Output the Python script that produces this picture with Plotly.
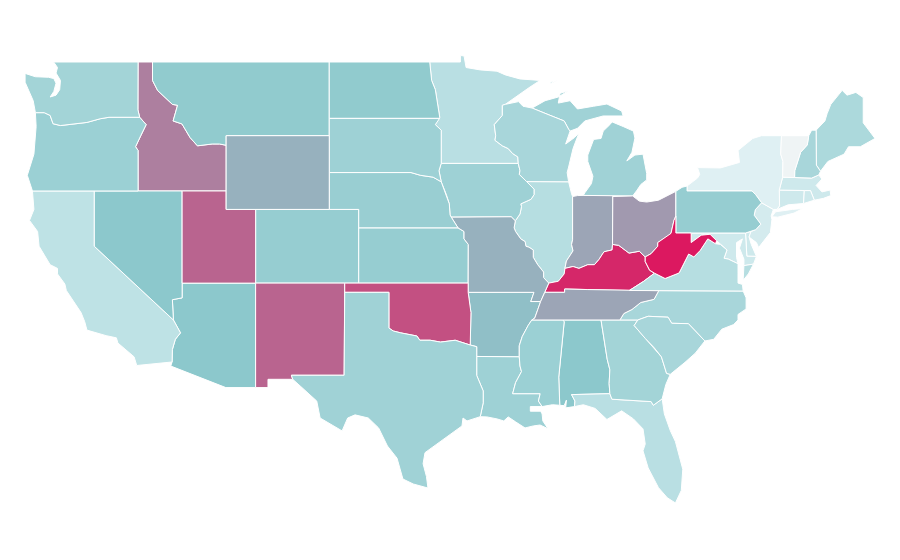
import plotly.graph_objects as go
from plotly.colors import sample_colorscale

# no topojson without the cdn, so the state outlines are drawn by hand here (approximate lon/lat)
states = ['AL', 'AZ', 'AR', 'CA', 'CO', 'CT', 'DE', 'DC', 'FL', 'GA', 'ID', 'IL', 'IN', 'IA', 'KS', 'KY', 'LA',
          'ME', 'MD', 'MA', 'MI', 'MN', 'MS', 'MO', 'MT', 'NE', 'NV', 'NH', 'NJ', 'NM', 'NY', 'NC', 'ND', 'OH',
          'OK', 'OR', 'PA', 'RI', 'SC', 'SD', 'TN', 'TX', 'UT', 'VT', 'VA', 'WA', 'WV', 'WI', 'WY']
values = [40, 40, 43, 20, 36, 14, 14, 14, 22, 31, 65, 23, 52, 33, 36, 95, 33,
          27, 14, 14, 32, 22, 34, 48, 38, 35, 40, 29, 12, 74, 8, 29, 38, 56,
          81, 34, 36, 14, 29, 33, 52, 32, 74, 2, 23, 31, 100, 29, 48]

colors = [[0, '#f4f5f6'], [0.08, '#dff0f3'], [0.2, '#bee2e5'], [0.4, '#8cc8cc'], [1, '#dc1860']]

# rivers shared by two states
miss_mn_wi = [(-92.8, 44.75), (-92.3, 44.45), (-91.9, 44.3), (-91.6, 44.03), (-91.25, 43.85), (-91.22, 43.5)]
miss_ia_wi = [(-91.22, 43.5), (-91.1, 43.1), (-91.15, 42.9), (-90.65, 42.51)]
miss_ia_il = [(-90.65, 42.51), (-90.4, 42.3), (-90.15, 42.1), (-90.15, 41.8), (-90.35, 41.55), (-91.05, 41.3),
              (-91.0, 41.15), (-91.1, 40.75), (-91.42, 40.38)]
miss_mo_il = [(-91.42, 40.38), (-91.5, 40.0), (-91.4, 39.8), (-91.05, 39.4), (-90.75, 39.25), (-90.7, 39.0),
              (-90.5, 38.95), (-90.2, 38.8), (-90.2, 38.4), (-89.9, 38.0), (-89.5, 37.6), (-89.5, 37.3),
              (-89.15, 37.0)]
miss_mo_ky = [(-89.15, 37.0), (-89.42, 36.5)]
miss_mo_tn = [(-89.42, 36.5), (-89.55, 36.3), (-89.7, 36.0)]
miss_ar_tn = [(-89.7, 36.0), (-89.9, 35.55), (-90.1, 35.1), (-90.3, 35.0)]
miss_ar_ms = [(-90.3, 35.0), (-90.55, 34.7), (-90.95, 34.1), (-91.15, 33.6), (-91.15, 33.0)]
miss_la_ms = [(-91.15, 33.0), (-91.1, 32.5), (-91.0, 32.2), (-91.4, 31.6), (-91.6, 31.0)]
ohio_il = [(-89.15, 37.0), (-88.5, 37.1), (-88.1, 37.5), (-88.05, 37.8)]
ohio_in = [(-88.05, 37.8), (-87.5, 37.9), (-87.1, 37.8), (-86.5, 38.0), (-86.05, 38.0), (-85.75, 38.27),
           (-85.4, 38.7), (-84.85, 38.8), (-84.82, 39.1)]
ohio_oh = [(-84.82, 39.1), (-84.4, 39.05), (-83.7, 38.63), (-83.0, 38.73), (-82.6, 38.42)]
ohio_wv = [(-82.6, 38.42), (-82.2, 38.6), (-81.75, 39.0), (-81.75, 39.2), (-81.0, 39.6), (-80.85, 39.7),
           (-80.65, 40.4), (-80.52, 40.64)]
id_mt = [(-116.05, 49), (-116.05, 48), (-115.7, 47.45), (-114.7, 46.7), (-114.35, 46.65), (-114.65, 45.8),
         (-114.05, 45.64), (-113.5, 44.9), (-113.0, 44.45), (-112.0, 44.55), (-111.5, 44.55), (-111.05, 44.48)]
columbia = [(-124.0, 46.25), (-123.4, 46.25), (-123.0, 46.1), (-122.8, 45.65), (-122.3, 45.55), (-121.2, 45.65),
            (-120.5, 45.72), (-119.6, 45.92), (-119.0, 46.0), (-116.92, 46.0)]
snake = [(-116.92, 46.0), (-116.48, 45.6), (-116.85, 45.0), (-117.2, 44.4), (-117.03, 44.2), (-117.03, 42.0)]
colorado = [(-114.63, 35.0), (-114.15, 34.3), (-114.5, 33.95), (-114.7, 33.4), (-114.72, 32.72)]
red = [(-94.48, 33.64), (-95.5, 33.9), (-96.5, 33.8), (-97.2, 33.9), (-97.9, 33.9), (-98.1, 34.13), (-99.2, 34.3),
       (-99.7, 34.4), (-100, 34.56)]
potomac = [(-76.3, 38.05), (-76.95, 38.3), (-77.25, 38.35), (-77.05, 38.8), (-77.5, 39.1)]
va_wv = [(-77.83, 39.14), (-78.35, 39.4), (-78.87, 38.77), (-79.3, 38.42), (-79.65, 38.58), (-80.3, 37.55),
         (-81.25, 37.25), (-81.97, 37.54)]
tug = [(-81.97, 37.54), (-82.3, 37.7), (-82.6, 38.17), (-82.6, 38.42)]
tn_nc = [(-84.32, 35.0), (-84.05, 35.35), (-83.5, 35.57), (-82.9, 35.95), (-82.4, 36.05), (-82.0, 36.12),
         (-81.68, 36.59)]
ga_sc = [(-83.1, 35.0), (-83.35, 34.7), (-82.6, 34.0), (-82.0, 33.5), (-81.5, 33.0), (-81.15, 32.1), (-80.9, 32.05)]
nc_sc = [(-83.1, 35.0), (-82.4, 35.2), (-81.05, 35.15), (-80.8, 34.82), (-79.67, 34.8), (-78.55, 33.86)]
ky_tn = [(-81.68, 36.59), (-83.68, 36.6), (-86.5, 36.65), (-88.07, 36.68), (-88.07, 36.5), (-89.42, 36.5)]
wi_mi = [(-90.28, 46.5), (-89.2, 46.15), (-88.1, 45.8), (-87.8, 45.35), (-87.7, 45.25)]
vt_nh = [(-71.5, 45.0), (-71.6, 44.5), (-72.05, 44.1), (-72.45, 43.1), (-72.46, 42.73)]
de_river = [(-75.42, 39.8), (-75.1, 39.9), (-74.75, 40.2), (-75.2, 40.68), (-75.13, 40.98), (-74.7, 41.36),
            (-75.1, 41.8), (-75.35, 42.0)]


def rev(seg):
    return seg[::-1]


outlines = {
    'WA': [[(-117.03, 49), (-122.76, 49), (-122.5, 48.7), (-122.6, 48.4), (-122.3, 48.0), (-122.35, 47.5),
            (-122.6, 47.2), (-123.0, 47.1), (-122.75, 47.4), (-122.6, 47.85), (-122.75, 48.1), (-123.1, 48.17),
            (-124.0, 48.2), (-124.7, 48.38), (-124.7, 47.9), (-124.15, 46.9)]
           + columbia + [(-117.04, 46.4)]],
    'OR': [columbia + snake + [(-124.2, 42.0), (-124.55, 42.85), (-124.1, 44.0), (-123.95, 45.5)]],
    'CA': [[(-124.2, 42), (-120, 42), (-120, 39)] + colorado
           + [(-117.12, 32.53), (-117.3, 33.0), (-118.4, 33.75), (-118.5, 34.03), (-119.2, 34.15), (-120.5, 34.45),
              (-120.65, 34.9), (-120.9, 35.4), (-121.9, 36.6), (-122.0, 36.95), (-122.5, 37.5), (-122.5, 37.8),
              (-123.0, 38.0), (-123.75, 39.0), (-123.85, 39.8), (-124.4, 40.4), (-124.1, 41.0)]],
    'NV': [[(-120, 42), (-114.04, 42), (-114.04, 36.2), (-114.7, 36.1), (-114.63, 35.0), (-120, 39)]],
    'AZ': [[(-114.04, 37), (-109.05, 37), (-109.05, 31.33), (-111.07, 31.33), (-114.81, 32.5)] + rev(colorado)
           + [(-114.7, 36.1), (-114.04, 36.2)]],
    'UT': [[(-114.04, 42), (-111.05, 42), (-111.05, 41), (-109.05, 41), (-109.05, 37), (-114.04, 37)]],
    'ID': [[(-117.03, 49)] + id_mt + [(-111.05, 42)] + rev(snake) + [(-117.04, 46.4)]],
    'MT': [id_mt + [(-111.05, 45), (-104.05, 45), (-104.05, 49)]],
    'WY': [[(-111.05, 45), (-104.05, 45), (-104.05, 41), (-111.05, 41)]],
    'CO': [[(-109.05, 41), (-102.05, 41), (-102.05, 37), (-109.05, 37)]],
    'NM': [[(-109.05, 37), (-103, 37), (-103.04, 32), (-106.62, 32), (-106.53, 31.78), (-108.21, 31.78),
            (-108.21, 31.33), (-109.05, 31.33)]],
    'ND': [[(-104.05, 49), (-97.23, 49), (-97.1, 48), (-96.85, 47.5), (-96.55, 46.0), (-96.56, 45.94),
            (-104.05, 45.94)]],
    'SD': [[(-104.05, 45.94), (-96.56, 45.94), (-96.85, 45.6), (-96.45, 45.3), (-96.45, 43.5), (-96.6, 43.1),
            (-96.45, 42.5), (-97.0, 42.75), (-97.85, 42.85), (-98.5, 43.0), (-104.05, 43)]],
    'NE': [[(-104.05, 43), (-98.5, 43), (-97.85, 42.85), (-97.0, 42.75), (-96.45, 42.5), (-96.1, 41.8),
            (-95.9, 41.3), (-95.85, 40.7), (-95.77, 40.58), (-95.31, 40.0), (-102.05, 40), (-102.05, 41),
            (-104.05, 41)]],
    'KS': [[(-102.05, 40), (-95.31, 40), (-94.9, 39.8), (-94.9, 39.4), (-94.61, 39.1), (-94.62, 37), (-102.05, 37)]],
    'OK': [[(-103, 37), (-94.62, 37), (-94.62, 36.5), (-94.43, 35.4)] + red + [(-100, 36.5), (-103, 36.5)]],
    'TX': [[(-103, 36.5), (-100, 36.5)] + rev(red)
           + [(-94.04, 33.55), (-94.04, 31.99), (-93.6, 31.15), (-93.6, 30.5), (-93.8, 29.75), (-94.7, 29.52),
              (-94.97, 29.68), (-95.04, 29.25), (-95.99, 28.7), (-96.74, 28.27), (-97.55, 27.8), (-97.68, 27.2),
              (-97.45, 26.5), (-97.35, 25.88), (-98.35, 26.1), (-99.05, 26.37), (-99.45, 27.5), (-100.1, 28.16),
              (-100.7, 29.14), (-101.4, 29.68), (-102.3, 29.85), (-102.8, 29.68), (-103.18, 28.98), (-104.67, 29.68),
              (-104.9, 30.6), (-106.0, 31.4), (-106.53, 31.78), (-106.62, 32), (-103.04, 32)]],
    'MN': [[(-97.23, 49), (-95.15, 49), (-95.15, 49.35), (-94.9, 49.33), (-94.76, 48.7), (-93.8, 48.57),
            (-92.66, 48.5), (-92.1, 48.3), (-91.1, 48.08), (-89.74, 48.0), (-90.5, 47.6), (-92.1, 46.7),
            (-92.3, 46.65), (-92.3, 46.1), (-92.85, 45.6), (-92.75, 45.0)] + miss_mn_wi
           + [(-96.45, 43.5), (-96.45, 45.3), (-96.85, 45.6), (-96.56, 45.94), (-96.55, 46.0), (-96.85, 47.5),
              (-97.1, 48)]],
    'IA': [[(-96.45, 43.5)] + miss_ia_wi + miss_ia_il
           + [(-91.7, 40.6), (-95.77, 40.58), (-95.85, 40.7), (-95.9, 41.3), (-96.1, 41.8), (-96.45, 42.5),
              (-96.6, 43.1)]],
    'MO': [[(-95.77, 40.58), (-91.7, 40.6)] + miss_mo_il + miss_mo_ky + miss_mo_tn
           + [(-90.37, 36.0), (-90.15, 36.5), (-94.62, 36.5), (-94.62, 37), (-94.61, 39.1), (-94.9, 39.4),
              (-94.9, 39.8), (-95.31, 40)]],
    'AR': [[(-94.62, 36.5), (-90.15, 36.5), (-90.37, 36.0)] + miss_ar_tn + miss_ar_ms
           + [(-94.04, 33.02), (-94.04, 33.55), (-94.48, 33.64), (-94.43, 35.4)]],
    'LA': [[(-94.04, 33.02)] + miss_la_ms
           + [(-89.73, 31.0), (-89.85, 30.6), (-89.6, 30.3), (-90.4, 30.3), (-90.4, 30.05), (-89.7, 30.05),
              (-89.6, 29.9), (-89.55, 29.52), (-89.2, 29.1), (-89.74, 29.3), (-90.2, 29.25), (-90.76, 29.14),
              (-91.4, 29.47), (-91.9, 29.74), (-92.2, 29.52), (-92.66, 29.63), (-93.35, 29.74), (-93.8, 29.75),
              (-93.6, 30.5), (-93.6, 31.15), (-94.04, 31.99)]],
    'MS': [[(-90.3, 35.0), (-88.2, 35.0), (-88.1, 34.9), (-88.47, 31.9), (-88.4, 30.37), (-88.9, 30.4),
            (-89.6, 30.3), (-89.85, 30.6), (-89.73, 31.0)] + rev(miss_la_ms) + rev(miss_ar_ms)],
    'AL': [[(-88.2, 35.0), (-85.6, 35.0), (-85.18, 32.87), (-85.0, 32.3), (-85.05, 31.55), (-85.0, 31.0),
            (-87.6, 30.95), (-87.37, 30.6), (-87.4, 30.3), (-88.0, 30.23), (-87.95, 30.65), (-88.1, 30.35),
            (-88.4, 30.37), (-88.47, 31.9), (-88.1, 34.9)]],
    'TN': [[(-90.3, 35.0), (-85.6, 35.0)] + tn_nc + ky_tn + miss_mo_tn + miss_ar_tn],
    'KY': [ohio_il + ohio_in + ohio_oh + rev(tug) + [(-82.7, 37.1)] + ky_tn[1:] + rev(miss_mo_ky)],
    'IL': [[(-90.65, 42.51), (-87.8, 42.5), (-87.6, 41.85), (-87.53, 41.7), (-87.53, 39.35), (-87.6, 39.1),
            (-87.5, 38.75), (-87.95, 38.2)] + rev(ohio_il) + rev(miss_mo_il) + rev(miss_ia_il)],
    'IN': [[(-87.53, 41.7), (-87.2, 41.75), (-86.8, 41.76), (-84.8, 41.76)] + rev(ohio_in)
           + [(-87.95, 38.2), (-87.5, 38.75), (-87.6, 39.1), (-87.53, 39.35)]],
    'OH': [[(-84.8, 41.7), (-83.45, 41.73), (-83.0, 41.45), (-82.5, 41.4), (-81.7, 41.5), (-80.52, 41.98)]
           + rev(ohio_wv) + rev(ohio_oh)],
    'MI': [[(-86.8, 41.76), (-84.8, 41.76), (-83.45, 41.73), (-83.15, 42.05), (-82.9, 42.35), (-82.5, 42.6),
            (-82.5, 42.95), (-82.75, 44.0), (-83.3, 43.95), (-83.85, 43.63), (-83.5, 44.1), (-83.3, 44.87),
            (-83.4, 45.25), (-84.1, 45.5), (-84.85, 45.75), (-85.0, 45.6), (-85.45, 45.25), (-85.6, 44.85),
            (-86.1, 44.8), (-86.5, 43.95), (-86.5, 43.6), (-86.15, 42.8), (-86.25, 42.4), (-86.7, 41.9)],
           [(-90.28, 46.5), (-89.4, 46.9), (-88.5, 47.1), (-87.84, 47.43), (-88.38, 47.3), (-88.5, 46.77),
            (-87.7, 46.9), (-87.2, 46.45), (-86.1, 46.6), (-85.2, 46.72), (-84.2, 46.34), (-84.1, 46.07),
            (-85.46, 46.07), (-86.35, 45.9), (-86.7, 45.8), (-87.2, 45.4)] + rev(wi_mi),
           [(-89.06, 47.9), (-88.65, 48.0), (-88.6, 47.98), (-89.0, 47.85)]],
    'WI': [[(-92.1, 46.7), (-91.2, 46.85), (-90.9, 46.6)] + wi_mi
           + [(-88.0, 44.55), (-87.4, 44.9), (-87.1, 45.15), (-87.5, 44.3), (-87.8, 43.3), (-87.9, 43.0),
              (-87.8, 42.5)] + rev(miss_ia_wi) + rev(miss_mn_wi)
           + [(-92.75, 45.0), (-92.85, 45.6), (-92.3, 46.1), (-92.3, 46.65)]],
    'PA': [[(-80.52, 41.98), (-80.1, 42.2), (-79.76, 42.27), (-79.76, 42.0)] + rev(de_river)
           + [(-75.79, 39.72), (-80.52, 39.72), (-80.52, 40.64)]],
    'NY': [[(-79.76, 42.27), (-79.05, 42.7), (-78.9, 42.9), (-79.05, 43.27), (-77.5, 43.25), (-76.2, 43.55),
            (-76.3, 44.2), (-75.3, 44.85), (-74.7, 45.0), (-73.35, 45.0), (-73.4, 44.0), (-73.25, 43.6),
            (-73.27, 42.75), (-73.5, 42.05), (-73.48, 41.2), (-73.65, 41.0), (-73.9, 41.0), (-74.7, 41.36),
            (-75.1, 41.8), (-75.35, 42), (-79.76, 42)],
           [(-74.0, 40.6), (-73.75, 40.87), (-72.6, 41.0), (-71.9, 41.05), (-72.5, 40.8), (-73.6, 40.58)]],
    'NJ': [[(-74.7, 41.36), (-73.9, 41.0), (-74.05, 40.65), (-74.0, 40.45), (-74.1, 39.75), (-74.9, 38.93),
            (-75.05, 39.2), (-75.55, 39.5)] + de_river[:5]],
    'DE': [[(-75.79, 39.72), (-75.42, 39.8), (-75.55, 39.5), (-75.4, 39.1), (-75.05, 38.45), (-75.7, 38.46)]],
    'MD': [[(-79.48, 39.72), (-75.79, 39.72), (-75.7, 38.46), (-75.05, 38.45), (-75.25, 38.03), (-75.9, 37.95),
            (-75.9, 38.3), (-76.2, 38.9), (-76.0, 39.4), (-76.4, 39.2), (-76.4, 38.4)] + potomac
           + [(-77.75, 39.3), (-78.2, 39.65), (-78.8, 39.6), (-79.48, 39.2)]],
    'DC': [[(-77.12, 38.93), (-77.04, 39.0), (-76.91, 38.89), (-77.04, 38.79)]],
    'VA': [[(-83.68, 36.6), (-81.68, 36.59), (-75.95, 36.57), (-76.0, 36.93), (-76.3, 37.0), (-76.3, 37.5)]
           + potomac + va_wv + [(-82.7, 37.1)],
           [(-75.25, 38.03), (-75.9, 37.95), (-75.95, 37.15), (-75.6, 37.5)]],
    'WV': [[(-80.52, 40.64), (-80.52, 39.72), (-79.48, 39.72), (-79.48, 39.2), (-78.8, 39.6), (-78.2, 39.65),
            (-77.75, 39.3)] + va_wv + tug + ohio_wv],
    'NC': [tn_nc[:1] + [(-83.1, 35.0)] + nc_sc[1:]
           + [(-77.95, 33.95), (-77.4, 34.5), (-76.6, 34.75), (-76.3, 35.0), (-76.3, 35.3), (-75.75, 35.6),
              (-75.75, 36.2), (-75.95, 36.57)] + rev(tn_nc)],
    'SC': [nc_sc + [(-79.2, 33.2), (-79.9, 32.7)] + rev(ga_sc)],
    'GA': [[(-85.6, 35.0)] + ga_sc
           + [(-81.2, 31.5), (-81.45, 30.72), (-82.05, 30.37), (-82.2, 30.57), (-84.86, 30.7), (-85.0, 31.0),
              (-85.05, 31.55), (-85.0, 32.3), (-85.18, 32.87)]],
    'FL': [[(-87.6, 30.95), (-85, 31), (-84.86, 30.7), (-82.2, 30.57), (-82.05, 30.37), (-81.45, 30.72),
            (-81.3, 29.9), (-80.9, 29.0), (-80.55, 28.4), (-80.05, 26.9), (-80.15, 25.75), (-80.55, 25.07),
            (-81.1, 25.35), (-81.7, 25.9), (-82.4, 26.97), (-82.75, 27.9), (-82.6, 28.27), (-82.75, 29.09),
            (-83.4, 29.63), (-84.2, 30.07), (-85.2, 29.6), (-86.0, 30.2), (-86.8, 30.4), (-87.4, 30.3),
            (-87.37, 30.6)]],
    'CT': [[(-73.5, 42.05), (-71.8, 42.02), (-71.85, 41.32), (-72.9, 41.25), (-73.65, 41.0), (-73.48, 41.2)]],
    'RI': [[(-71.8, 42.02), (-71.38, 42.02), (-71.12, 41.5), (-71.85, 41.32)]],
    'MA': [[(-73.5, 42.05), (-73.27, 42.75), (-72.46, 42.73), (-71.3, 42.7), (-70.82, 42.87), (-70.6, 42.65),
            (-71.0, 42.3), (-70.6, 41.95), (-70.05, 42.05), (-70.0, 41.75), (-70.5, 41.6), (-71.12, 41.5),
            (-71.38, 42.02), (-71.8, 42.02)]],
    'VT': [[(-73.35, 45.0)] + vt_nh + [(-73.27, 42.75), (-73.25, 43.6), (-73.4, 44.0)]],
    'NH': [[(-71.5, 45.0), (-71.3, 45.3), (-71.0, 45.3), (-70.98, 43.4), (-70.7, 43.07), (-70.82, 42.87),
            (-71.3, 42.7)] + rev(vt_nh)],
    'ME': [[(-71.0, 45.3), (-70.4, 45.8), (-70.25, 46.2), (-70.0, 46.7), (-69.23, 47.46), (-68.9, 47.2),
            (-68.3, 47.35), (-67.8, 47.07), (-67.8, 45.7), (-67.45, 45.3), (-67.0, 44.85), (-68.0, 44.4),
            (-68.8, 44.4), (-69.1, 44.0), (-70.2, 43.6), (-70.7, 43.07), (-70.98, 43.4)]],
}

fig = go.Figure()
for code, val in zip(states, values):
    lons, lats = [], []
    for ring in outlines[code]:
        ring = ring + ring[:1]
        lons += [p[0] for p in ring] + [None]
        lats += [p[1] for p in ring] + [None]
    # the reference is lat/lon stretched straight, so plain axes fit it better than a geo projection
    fig.add_trace(go.Scatter(x=lons[:-1], y=lats[:-1], name=code, mode='lines', fill='toself',
                             fillcolor=sample_colorscale(colors, val / 100)[0],
                             line=dict(color='white', width=1)))

# ranges are shifted a little: the page body adds an 8px margin round the plot
fig.update_layout(width=900, height=560, margin=dict(l=0, r=0, t=0, b=0), paper_bgcolor='white',
                  plot_bgcolor='white', showlegend=False,
                  xaxis=dict(visible=False, range=[-125.86, -64.76]),
                  yaxis=dict(visible=False, range=[21.54, 51.93]))
fig.write_html("out.html")
